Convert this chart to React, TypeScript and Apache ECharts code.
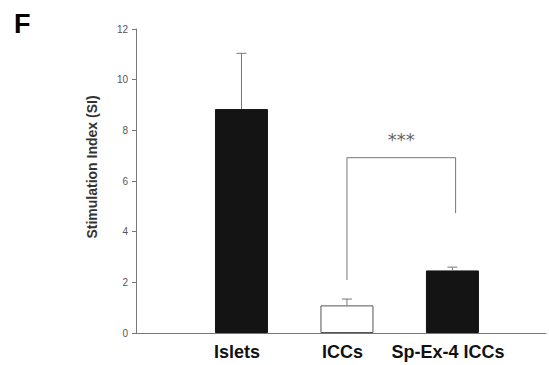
import React, { useEffect, useRef } from "react";
import * as echarts from "echarts";

// Group names, mean stimulation index and upper SEM
const categories = ["Islets", "ICCs", "Sp-Ex-4 ICCs"];
const means = [8.84, 1.09, 2.47];
const errors = [2.2, 0.25, 0.13];
const barColors = ["#141414", "#ffffff", "#141414"];

// y-axis ticks
const yTicks = [0, 2, 4, 6, 8, 10, 12];

// significance bracket between ICCs and Sp-Ex-4 ICCs
const bracketX = [2, 3.03];
const bracketLow = [2.09, 4.73];
const bracketTop = 6.92;
const bracketLabel = "***";
const bracketLabelY = 7.62;

const FONT = "'Liberation Sans', Arial, Helvetica, sans-serif";

export default function App() {
  const ref = useRef<HTMLDivElement>(null);

  useEffect(() => {
    if (!ref.current) return;
    const chart = echarts.init(ref.current, null, { renderer: "svg" });

    const barData = categories.map((c, i) => ({
      value: [i + 1, means[i]],
      itemStyle: {
        color: barColors[i],
        borderColor: i === 1 ? "#555" : barColors[i],
        borderWidth: 1,
      },
    }));

    const errData = categories.map((c, i) => [i + 1, means[i], means[i] + errors[i]]);

    chart.setOption({
      animation: false,
      backgroundColor: "#fff",
      grid: { left: 136, right: 1, top: 29, bottom: 32, containLabel: false },
      xAxis: {
        type: "value",
        min: 0,
        max: 3.887,
        interval: 1,
        splitLine: { show: false },
        axisLine: { show: true, lineStyle: { color: "#777", width: 1 } },
        axisTick: { show: false },
        axisLabel: {
          margin: 10,
          padding: [0, 9, 0, 0],
          fontFamily: FONT,
          fontSize: 18,
          fontWeight: "bold",
          color: "#111",
          formatter: (v: number) => {
            const i = Math.round(v) - 1;
            return Math.abs(v - Math.round(v)) < 1e-6 && i >= 0 && i < categories.length
              ? categories[i]
              : "";
          },
        },
      },
      yAxis: {
        type: "value",
        min: yTicks[0],
        max: yTicks[yTicks.length - 1],
        interval: 2,
        splitLine: { show: false },
        axisLine: { show: true, lineStyle: { color: "#777", width: 1 } },
        axisTick: { show: true, length: 4, lineStyle: { color: "#777" } },
        axisLabel: {
          margin: 8,
          fontFamily: FONT,
          fontSize: 10,
          color: "#555",
        },
      },
      graphic: [
        {
          type: "text",
          left: 14,
          top: 10,
          style: {
            text: "F",
            font: `bold 27px ${FONT}`,
            fill: "#000",
          },
        },
        {
          type: "text",
          x: 92,
          y: 167,
          rotation: Math.PI / 2,
          style: {
            text: "Stimulation Index (SI)",
            font: `bold 14px ${FONT}`,
            fill: "#333",
            textAlign: "center",
            textVerticalAlign: "middle",
          },
        },
      ],
      series: [
        {
          type: "bar",
          barWidth: 53,
          data: barData,
        },
        {
          type: "custom",
          data: errData,
          z: 3,
          renderItem: (params: any, api: any) => {
            const x = api.value(0);
            const lo = api.coord([x, api.value(1)]);
            const hi = api.coord([x, api.value(2)]);
            const style = { stroke: "#777", lineWidth: 1 };
            return {
              type: "group",
              children: [
                { type: "line", shape: { x1: lo[0], y1: lo[1], x2: hi[0], y2: hi[1] }, style },
                { type: "line", shape: { x1: hi[0] - 5, y1: hi[1], x2: hi[0] + 5, y2: hi[1] }, style },
              ],
            };
          },
        },
        {
          type: "custom",
          data: [[bracketX[0], bracketLow[0], bracketX[1], bracketLow[1], bracketTop]],
          z: 3,
          renderItem: (params: any, api: any) => {
            const a = api.coord([api.value(0), api.value(1)]);
            const b = api.coord([api.value(2), api.value(3)]);
            const t = api.coord([api.value(0), api.value(4)]);
            const lbl = api.coord([(api.value(0) + api.value(2)) / 2, bracketLabelY]);
            return {
              type: "group",
              children: [
                {
                  type: "polyline",
                  shape: { points: [a, [a[0], t[1]], [b[0], t[1]], b] },
                  style: { stroke: "#777", lineWidth: 1, fill: "none" },
                },
                {
                  type: "text",
                  x: lbl[0],
                  y: lbl[1],
                  style: {
                    text: bracketLabel,
                    font: `18px 'DejaVu Sans', sans-serif`,
                    fill: "#666",
                    textAlign: "center",
                    textVerticalAlign: "middle",
                  },
                },
              ],
            };
          },
        },
      ],
    });

    return () => chart.dispose();
  }, []);

  return <div ref={ref} style={{ width: 549, height: 365, position: "absolute", left: 0, top: 0 }} />;
}
